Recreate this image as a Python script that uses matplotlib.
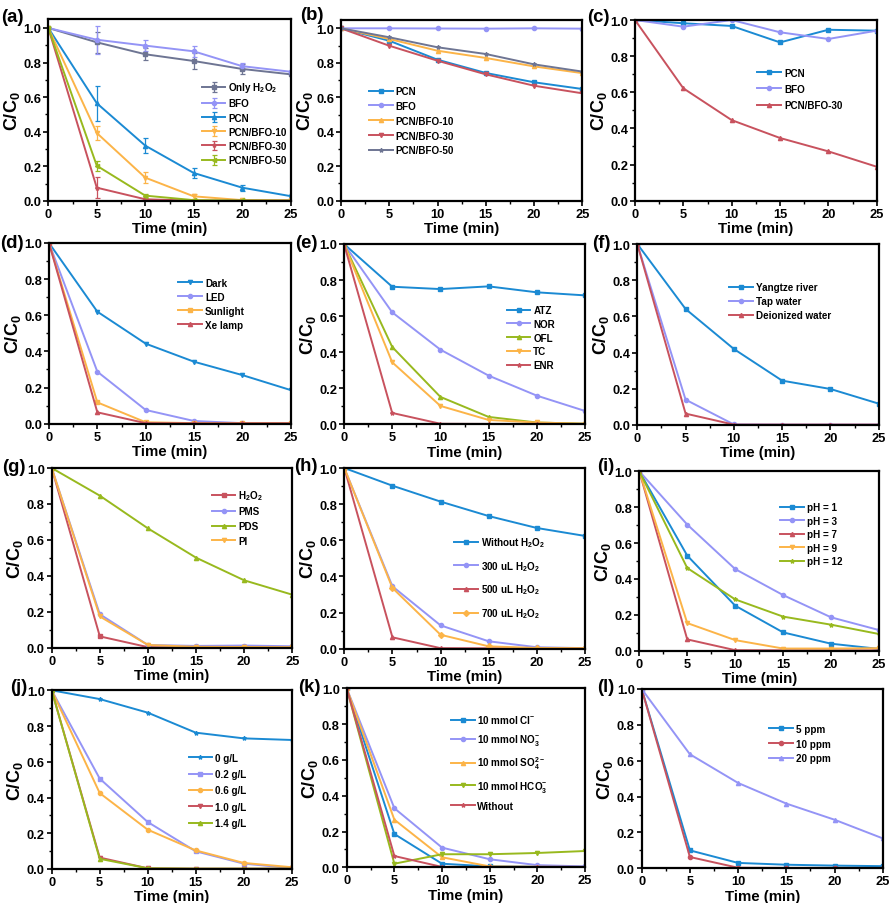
import matplotlib
matplotlib.use("Agg")
import matplotlib.pyplot as plt
from matplotlib.ticker import MultipleLocator

plt.rcParams['font.family'] = ['Liberation Sans', 'DejaVu Sans']
plt.rcParams['font.weight'] = 'bold'
plt.rcParams['axes.labelweight'] = 'bold'
plt.rcParams['mathtext.fontset'] = 'custom'
plt.rcParams['mathtext.rm'] = 'Liberation Sans:bold'
plt.rcParams['mathtext.it'] = 'Liberation Sans:bold'
plt.rcParams['mathtext.bf'] = 'Liberation Sans:bold'
plt.rcParams['mathtext.default'] = 'regular'

# ---------------- data ----------------
time = [0, 5, 10, 15, 20, 25]

# (a)
a_labels = ['Only H$_2$O$_2$', 'BFO', 'PCN', 'PCN/BFO-10', 'PCN/BFO-30', 'PCN/BFO-50']
a_only_h2o2 = [1.0, 0.917, 0.848, 0.809, 0.763, 0.732]
a_bfo = [1.0, 0.932, 0.898, 0.865, 0.779, 0.747]
a_pcn = [1.0, 0.565, 0.32, 0.162, 0.077, 0.028]
a_pcn_bfo10 = [1.0, 0.393, 0.135, 0.027, 0.005, 0.004]
a_pcn_bfo30 = [1.0, 0.077, 0.01, 0.002, 0.002, 0.002]
a_pcn_bfo50 = [1.0, 0.204, 0.031, 0.005, 0.003, 0.002]
a_err_only_h2o2 = [0.0, 0.06, 0.035, 0.045, 0.03, 0.01]
a_err_bfo = [0.0, 0.08, 0.03, 0.03, 0.02, 0.01]
a_err_pcn = [0.0, 0.1, 0.043, 0.027, 0.018, 0.01]
a_err_pcn_bfo10 = [0.0, 0.04, 0.03, 0.015, 0.005, 0.003]
a_err_pcn_bfo30 = [0.0, 0.06, 0.01, 0.003, 0.002, 0.002]
a_err_pcn_bfo50 = [0.0, 0.03, 0.01, 0.004, 0.002, 0.002]

# (b)
b_labels = ['PCN', 'BFO', 'PCN/BFO-10', 'PCN/BFO-30', 'PCN/BFO-50']
b_pcn = [1.0, 0.928, 0.818, 0.741, 0.687, 0.648]
b_bfo = [1.0, 1.0, 0.999, 0.998, 1.0, 0.998]
b_pcn_bfo10 = [1.0, 0.938, 0.870, 0.828, 0.779, 0.740]
b_pcn_bfo30 = [1.0, 0.899, 0.812, 0.733, 0.667, 0.623]
b_pcn_bfo50 = [1.0, 0.948, 0.890, 0.851, 0.791, 0.749]

# (c)
c_labels = ['PCN', 'BFO', 'PCN/BFO-30']
c_pcn = [1.0, 0.982, 0.967, 0.876, 0.946, 0.941]
c_bfo = [1.0, 0.963, 1.0, 0.932, 0.895, 0.941]
c_pcn_bfo30 = [1.0, 0.622, 0.446, 0.347, 0.273, 0.188]

# (d)
d_labels = ['Dark', 'LED', 'Sunlight', 'Xe lamp']
d_dark = [1.0, 0.62, 0.443, 0.343, 0.269, 0.186]
d_led = [1.0, 0.288, 0.076, 0.015, 0.003, 0.002]
d_sunlight = [1.0, 0.118, 0.008, 0.003, 0.003, 0.003]
d_xe = [1.0, 0.063, 0.003, 0.002, 0.002, 0.002]

# (e)
e_labels = ['ATZ', 'NOR', 'OFL', 'TC', 'ENR']
e_atz = [1.0, 0.763, 0.750, 0.765, 0.732, 0.715]
e_nor = [1.0, 0.621, 0.414, 0.270, 0.159, 0.074]
e_ofl = [1.0, 0.429, 0.152, 0.041, 0.010, 0.003]
e_tc = [1.0, 0.344, 0.102, 0.024, 0.010, 0.003]
e_enr = [1.0, 0.063, 0.003, 0.002, 0.002, 0.002]

# (f)
f_labels = ['Yangtze river', 'Tap water', 'Deionized water']
f_yangtze = [1.0, 0.641, 0.420, 0.245, 0.199, 0.118]
f_tap = [1.0, 0.140, 0.003, 0.002, 0.002, 0.002]
f_deionized = [1.0, 0.063, 0.002, 0.002, 0.002, 0.002]

# (g)
g_labels = ['H$_2$O$_2$', 'PMS', 'PDS', 'PI']
g_h2o2 = [1.0, 0.063, 0.003, 0.002, 0.002, 0.002]
g_pms = [1.0, 0.186, 0.015, 0.010, 0.012, 0.008]
g_pds = [1.0, 0.846, 0.664, 0.501, 0.375, 0.295]
g_pi = [1.0, 0.174, 0.015, 0.005, 0.004, 0.003]

# (h)
h_labels = ['Without H$_2$O$_2$', '300 uL H$_2$O$_2$', '500 uL H$_2$O$_2$', '700 uL H$_2$O$_2$']
h_without = [1.0, 0.902, 0.814, 0.734, 0.668, 0.624]
h_300 = [1.0, 0.345, 0.129, 0.041, 0.008, 0.003]
h_500 = [1.0, 0.063, 0.003, 0.002, 0.002, 0.002]
h_700 = [1.0, 0.336, 0.077, 0.013, 0.004, 0.003]

# (i)
i_labels = ['pH = 1', 'pH = 3', 'pH = 7', 'pH = 9', 'pH = 12']
i_ph1 = [1.0, 0.530, 0.251, 0.102, 0.039, 0.010]
i_ph3 = [1.0, 0.703, 0.455, 0.310, 0.186, 0.115]
i_ph7 = [1.0, 0.063, 0.003, 0.002, 0.002, 0.002]
i_ph9 = [1.0, 0.154, 0.059, 0.012, 0.012, 0.014]
i_ph12 = [1.0, 0.461, 0.286, 0.190, 0.145, 0.093]

# (j)
j_labels = ['0 g/L', '0.2 g/L', '0.6 g/L', '1.0 g/L', '1.4 g/L']
j_0 = [1.0, 0.951, 0.875, 0.763, 0.731, 0.722]
j_02 = [1.0, 0.506, 0.263, 0.099, 0.030, 0.005]
j_06 = [1.0, 0.425, 0.220, 0.104, 0.034, 0.010]
j_10 = [1.0, 0.064, 0.004, 0.002, 0.002, 0.002]
j_14 = [1.0, 0.057, 0.004, 0.002, 0.002, 0.002]

# (k)
k_labels = ['10 mmol Cl$^{-}$', '10 mmol NO$_3^{-}$', '10 mmol SO$_4^{2-}$',
            '10 mmol HCO$_3^{-}$', 'Without']
k_cl = [1.0, 0.186, 0.020, 0.005, 0.003, 0.002]
k_no3 = [1.0, 0.330, 0.110, 0.045, 0.012, 0.005]
k_so4 = [1.0, 0.266, 0.056, 0.005, 0.003, 0.002]
k_hco3 = [1.0, 0.020, 0.073, 0.073, 0.080, 0.091]
k_without = [1.0, 0.063, 0.002, 0.002, 0.002, 0.002]

# (l)
l_labels = ['5 ppm', '10 ppm', '20 ppm']
l_5 = [1.0, 0.100, 0.030, 0.020, 0.015, 0.012]
l_10 = [1.0, 0.063, 0.003, 0.002, 0.002, 0.002]
l_20 = [1.0, 0.636, 0.476, 0.361, 0.271, 0.167]

# ---------------- styles ----------------
BLUE = '#1b8ad3'
LAV = '#9494f6'
RED = '#c8525e'
ORA = '#fcb448'
GRN = '#98b91e'
GRY = '#6e7593'

W, H = 892, 904
fig = plt.figure(figsize=(W / 100, H / 100), dpi=100)


def make_ax(x0, x1, ybot, ytop, ymax):
    ax = fig.add_axes([x0 / W, 1 - ybot / H, (x1 - x0) / W, (ybot - ytop) / H])
    ax.set_xlim(0, 25)
    ax.set_ylim(0, ymax)
    ax.set_xticks([0, 5, 10, 15, 20, 25])
    ax.set_yticks([0, 0.2, 0.4, 0.6, 0.8, 1.0])
    ax.xaxis.set_minor_locator(MultipleLocator(2.5))
    ax.yaxis.set_minor_locator(MultipleLocator(0.1))
    ax.tick_params(which='major', direction='out', length=3.5, width=1.2,
                   labelsize=9.3, pad=1.5)
    ax.tick_params(which='minor', direction='out', length=2, width=1.0)
    for s in ax.spines.values():
        s.set_linewidth(1.6)
    ax.set_xlabel('Time (min)', fontsize=10.8, labelpad=1)
    ax.set_ylabel('C/C$_0$', fontsize=13, labelpad=1)
    return ax


LEG_FS = 7.1  # pt


def add_legend(ax, xfrac, ymid, spacing_px):
    fs_px = LEG_FS * 100 / 72
    ls = max((spacing_px - fs_px * 1.15) / fs_px, 0.05)
    ax.legend(loc='center left', bbox_to_anchor=(xfrac, ymid), frameon=False,
              borderpad=0, borderaxespad=0, handlelength=2.4, handletextpad=0.3,
              labelspacing=ls, prop={'size': LEG_FS, 'weight': 'bold'})


def plot_series(ax, ys, labels, colors, markers):
    for y, lab, c, m in zip(ys, labels, colors, markers):
        ax.plot(time, y, color=c, lw=1.4, marker=m, ms=3, label=lab)


def panel_label(txt, px, py):
    fig.text(px / W, 1 - py / H, txt, fontsize=13.3, fontweight='bold',
             ha='left', va='center')


# (a)
ax = make_ax(48.3, 290.7, 202, 20.3, 1.05)
a_vals = [a_only_h2o2, a_bfo, a_pcn, a_pcn_bfo10, a_pcn_bfo30, a_pcn_bfo50]
a_errs = [a_err_only_h2o2, a_err_bfo, a_err_pcn, a_err_pcn_bfo10, a_err_pcn_bfo30, a_err_pcn_bfo50]
a_cols = [GRY, LAV, BLUE, ORA, RED, GRN]
a_mk = ['s', 'o', '^', 'v', '*', '<']
for y, e, lab, c, m in zip(a_vals, a_errs, a_labels, a_cols, a_mk):
    ax.errorbar(time, y, yerr=e, color=c, lw=1.4, marker=m, ms=3, capsize=1.8,
                elinewidth=0.9, capthick=0.9, label=lab)
add_legend(ax, 0.633, 0.431, 15.5)
panel_label('(a)', 1, 18)

# (b)
ax = make_ax(341, 582.3, 201.7, 20.7, 1.05)
plot_series(ax, [b_pcn, b_bfo, b_pcn_bfo10, b_pcn_bfo30, b_pcn_bfo50], b_labels,
            [BLUE, LAV, ORA, RED, GRY], ['s', 'o', '^', 'v', '*'])
add_legend(ax, 0.116, 0.442, 16.2)
panel_label('(b)', 300, 16)

# (c)
ax = make_ax(635, 876.7, 201.7, 21, 1.0)
plot_series(ax, [c_pcn, c_bfo, c_pcn_bfo30], c_labels,
            [BLUE, LAV, RED], ['s', 'o', '^'])
add_legend(ax, 0.506, 0.619, 17.5)
panel_label('(c)', 587, 18)

# (d)
ax = make_ax(49, 290.7, 424.7, 244, 1.0)
plot_series(ax, [d_dark, d_led, d_sunlight, d_xe], d_labels,
            [BLUE, LAV, ORA, RED], ['v', 'o', 's', '^'])
add_legend(ax, 0.535, 0.664, 15.3)
panel_label('(d)', 0, 243)

# (e)
ax = make_ax(344, 585, 425.3, 245, 1.0)
plot_series(ax, [e_atz, e_nor, e_ofl, e_tc, e_enr], e_labels,
            [BLUE, LAV, GRN, ORA, RED], ['s', 'o', '^', 'v', '*'])
add_legend(ax, 0.675, 0.481, 15.1)
panel_label('(e)', 295, 244)

# (f)
ax = make_ax(637.3, 878.7, 426, 245, 1.0)
plot_series(ax, [f_yangtze, f_tap, f_deionized], f_labels,
            [BLUE, LAV, RED], ['s', 'o', '^'])
add_legend(ax, 0.38, 0.684, 15.2)
panel_label('(f)', 592, 244)

# (g)
ax = make_ax(51.7, 292.3, 648.7, 469, 1.0)
plot_series(ax, [g_h2o2, g_pms, g_pds, g_pi], g_labels,
            [RED, LAV, GRN, ORA], ['s', 'o', '^', 'v'])
add_legend(ax, 0.665, 0.728, 15.9)
panel_label('(g)', 2, 468)

# (h)
ax = make_ax(344.3, 585, 649.7, 469, 1.0)
plot_series(ax, [h_without, h_300, h_500, h_700], h_labels,
            [BLUE, LAV, RED, ORA], ['s', 'o', '^', 'D'])
add_legend(ax, 0.457, 0.393, 21.3)
panel_label('(h)', 294, 467)

# (i)
ax = make_ax(639.3, 879, 651.7, 472.3, 1.0)
plot_series(ax, [i_ph1, i_ph3, i_ph7, i_ph9, i_ph12], i_labels,
            [BLUE, LAV, RED, ORA, GRN], ['s', 'o', '^', 'v', '*'])
add_legend(ax, 0.587, 0.649, 14.8)
panel_label('(i)', 597, 467)

# (j)
ax = make_ax(51.7, 291.7, 870, 691.3, 1.0)
plot_series(ax, [j_0, j_02, j_06, j_10, j_14], j_labels,
            [BLUE, LAV, ORA, RED, GRN], ['*', 's', 'o', 'v', '^'])
add_legend(ax, 0.57, 0.44, 17.7)
panel_label('(j)', 10, 687)

# (k)
ax = make_ax(346.7, 585, 868.3, 689.3, 1.0)
plot_series(ax, [k_cl, k_no3, k_so4, k_hco3, k_without], k_labels,
            [BLUE, LAV, ORA, GRN, RED], ['s', 'o', '^', 'v', '*'])
add_legend(ax, 0.437, 0.588, 18.5)
panel_label('(k)', 298, 687)

# (l)
ax = make_ax(641.7, 882.7, 869.3, 690, 1.0)
plot_series(ax, [l_5, l_10, l_20], l_labels,
            [BLUE, RED, LAV], ['s', 'o', '^'])
add_legend(ax, 0.53, 0.696, 16.2)
panel_label('(l)', 597, 687)

fig.savefig('out.png', dpi=100)
